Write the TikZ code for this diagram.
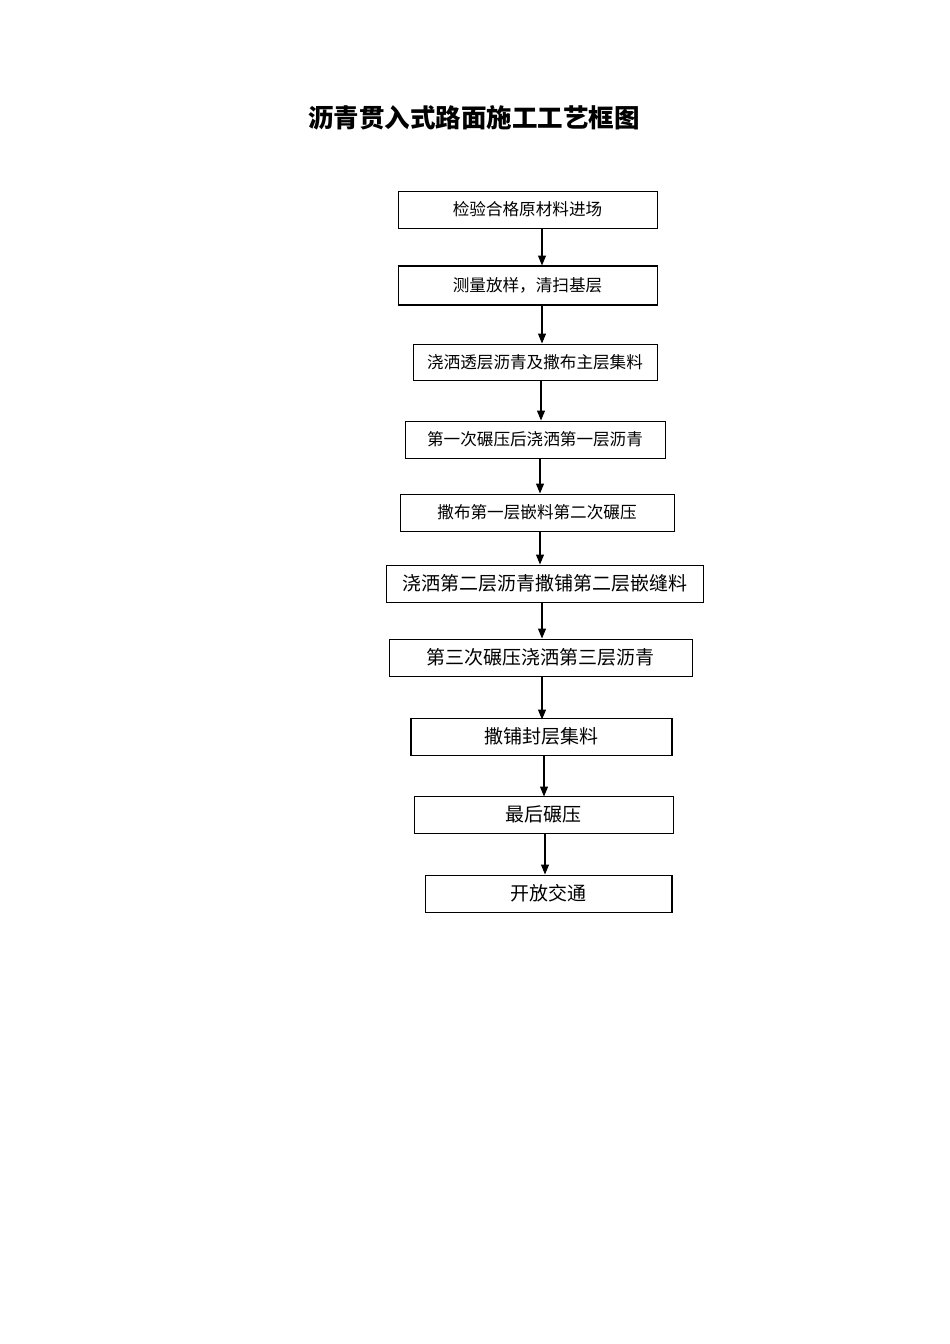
\documentclass[tikz,border=0pt]{standalone}
\usepackage{fontspec}
\newfontfamily\cjk{Noto Sans CJK SC}
\usetikzlibrary{arrows.meta}
\begin{document}
\begin{tikzpicture}[x=1pt,y=-1pt,
  boxs/.style={draw=black,line width=1pt,inner sep=0pt,font=\cjk\fontsize{16.6}{19}\selectfont},
  boxl/.style={draw=black,line width=1pt,inner sep=0pt,font=\cjk\fontsize{19}{22}\selectfont},
  arr/.style={line width=1.2pt,-{Triangle[length=10pt,width=8pt]}}]
\useasboundingbox[fill=white] (0,0) rectangle (950,1344);
\node[font=\cjk\bfseries\fontsize{25.5}{29}\selectfont] (title) at (474,118) {沥青贯入式路面施工工艺框图};
\node[boxs,minimum width=259pt,minimum height=37pt] (b1) at (527.5,209.5) {检验合格原材料进场};
\node[boxs,minimum width=259pt,minimum height=38pt] (b2) at (527.5,285) {测量放样，清扫基层};
\draw[line width=2pt] (b2.north west) -- (b2.north east) (b2.south west) -- (b2.south east);
\node[boxs,minimum width=244pt,minimum height=36pt] (b3) at (535,362) {浇洒透层沥青及撒布主层集料};
\node[boxs,minimum width=260pt,minimum height=37pt] (b4) at (535,439.5) {第一次碾压后浇洒第一层沥青};
\node[boxs,minimum width=274pt,minimum height=37pt] (b5) at (537,512.5) {撒布第一层嵌料第二次碾压};
\node[boxl,minimum width=317pt,minimum height=37pt] (b6) at (544.5,583.5) {浇洒第二层沥青撒铺第二层嵌缝料};
\node[boxl,minimum width=303pt,minimum height=37pt] (b7) at (540.5,657.5) {第三次碾压浇洒第三层沥青};
\node[boxl,minimum width=260pt,minimum height=37pt] (b8) at (541,736.5) {撒铺封层集料};
\draw[line width=2pt] (b8.north west) -- (b8.south west) (b8.north east) -- (b8.south east);
\node[boxl,minimum width=259pt,minimum height=37pt] (b9) at (543.5,814.5) {最后碾压};
\node[boxl,minimum width=246pt,minimum height=37pt] (b10) at (548,893.5) {开放交通};
\draw[line width=2pt] (b10.north east) -- (b10.south east);
\draw[arr] (b1.south -| 542,0) -- (b2.north -| 542,0);
\draw[arr] (b2.south -| 542,0) -- (b3.north -| 542,0);
\draw[arr] (b3.south -| 541,0) -- (b4.north -| 541,0);
\draw[arr] (b4.south -| 540,0) -- (b5.north -| 540,0);
\draw[arr] (b5.south -| 540,0) -- (b6.north -| 540,0);
\draw[arr] (b6.south -| 542,0) -- (b7.north -| 542,0);
\draw[arr] (b7.south -| 542,0) -- ([yshift=-2pt]b8.north -| 542,0);
\draw[arr] (b8.south -| 544,0) -- ([yshift=-1pt]b9.north -| 544,0);
\draw[arr] (b9.south -| 545,0) -- (b10.north -| 545,0);
\end{tikzpicture}
\end{document}
